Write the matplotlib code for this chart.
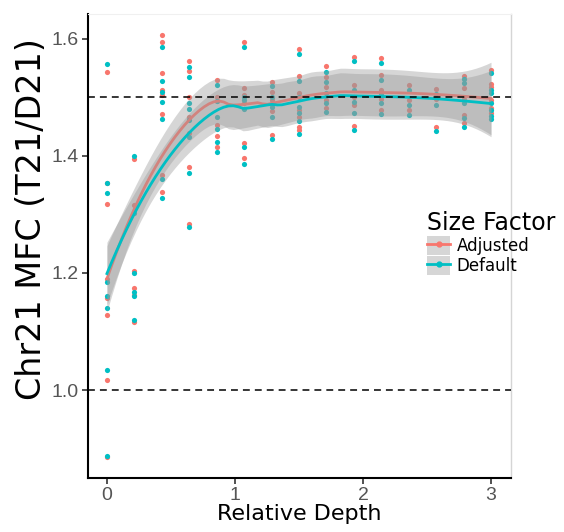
import numpy as np
import matplotlib.pyplot as plt
from matplotlib.patches import Patch
from matplotlib.lines import Line2D

# relative depth of each subsample
depth = [0.0, 0.214, 0.429, 0.643, 0.857, 1.071, 1.286, 1.5,
         1.714, 1.929, 2.143, 2.357, 2.571, 2.786, 3.0]

# Chr21 MFC per depth, size factors adjusted
adjusted = [
    [1.544, 1.353, 1.318, 1.190, 1.157, 1.129, 1.017, 0.885],
    [1.395, 1.316, 1.203, 1.174, 1.162, 1.117],
    [1.607, 1.595, 1.541, 1.512, 1.504, 1.472, 1.367, 1.338],
    [1.563, 1.545, 1.500, 1.466, 1.439, 1.381, 1.283],
    [1.530, 1.501, 1.494, 1.453, 1.434, 1.415],
    [1.595, 1.516, 1.504, 1.490, 1.423, 1.397],
    [1.527, 1.510, 1.495, 1.477, 1.436],
    [1.583, 1.537, 1.507, 1.479, 1.466, 1.449, 1.444],
    [1.553, 1.535, 1.518, 1.496, 1.482],
    [1.570, 1.521, 1.500, 1.487, 1.451],
    [1.567, 1.538, 1.513, 1.497, 1.479],
    [1.521, 1.496, 1.479],
    [1.514, 1.497, 1.449],
    [1.537, 1.516, 1.497, 1.470, 1.456],
    [1.547, 1.523, 1.518, 1.496, 1.482, 1.473],
]

# Chr21 MFC per depth, default size factors
default = [
    [1.558, 1.354, 1.337, 1.184, 1.160, 1.140, 1.034, 0.887],
    [1.400, 1.303, 1.200, 1.168, 1.160, 1.120],
    [1.586, 1.529, 1.510, 1.492, 1.464, 1.360, 1.329],
    [1.552, 1.535, 1.490, 1.480, 1.462, 1.432, 1.371, 1.278],
    [1.521, 1.494, 1.466, 1.446, 1.424, 1.406],
    [1.586, 1.500, 1.496, 1.480, 1.416, 1.387],
    [1.520, 1.500, 1.484, 1.467, 1.429],
    [1.575, 1.529, 1.500, 1.483, 1.473, 1.459, 1.438],
    [1.544, 1.527, 1.507, 1.490, 1.476],
    [1.562, 1.513, 1.492, 1.473, 1.444],
    [1.559, 1.530, 1.506, 1.490, 1.471],
    [1.513, 1.487, 1.470],
    [1.506, 1.488, 1.442],
    [1.532, 1.525, 1.490, 1.465, 1.449],
    [1.541, 1.512, 1.508, 1.490, 1.479, 1.468, 1.464],
]

groups = ["Adjusted", "Default"]
colors = ["#F8766D", "#00BFC4"]


def flatten(values):
    xs, ys = [], []
    for d, vals in zip(depth, values):
        xs += [d] * len(vals)
        ys += vals
    return np.array(xs), np.array(ys)


def loess(x, y, grid, span=0.75):
    # local quadratic fit with tricube weights, returns fit and 95% band
    n = len(x)
    q = int(np.floor(n * span))

    def hat_row(x0):
        dist = np.abs(x - x0)
        h = np.sort(dist)[q - 1] * 1.0000001
        w = np.clip(1 - (dist / h) ** 3, 0, None) ** 3
        X = np.column_stack([np.ones(n), x - x0, (x - x0) ** 2])
        XtW = X.T * w
        return np.linalg.pinv(XtW @ X)[0] @ XtW

    L = np.array([hat_row(xi) for xi in x])
    resid = y - L @ y
    M = np.eye(n) - L
    d1 = np.trace(M.T @ M)
    d2 = np.trace((M.T @ M) @ (M.T @ M))
    s = np.sqrt(np.sum(resid ** 2) / d1)
    df = d1 ** 2 / d2
    tq = 1.96 + 2.4 / df
    rows = np.array([hat_row(g) for g in grid])
    fit = rows @ y
    se = s * np.sqrt(np.sum(rows ** 2, axis=1))
    return fit, fit - tq * se, fit + tq * se


fig = plt.figure(figsize=(5.64, 5.32), dpi=100)
ax = fig.add_axes([0.156, 0.1015, 0.75, 0.8722])

grid = np.linspace(0, 3, 80)
for name, vals, c in zip(groups, [adjusted, default], colors):
    xs, ys = flatten(vals)
    ax.scatter(xs, ys, s=14, color=c, linewidths=0, zorder=2)

for name, vals, c in zip(groups, [adjusted, default], colors):
    xs, ys = flatten(vals)
    fit, lo, hi = loess(xs, ys, grid)
    ax.fill_between(grid, lo, hi, color="#999999", alpha=0.4, linewidth=0, zorder=3)
    ax.plot(grid, fit, color=c, lw=2.0, zorder=3)

for yref in [1.5, 1.0]:
    ax.axhline(yref, color="black", lw=1.1, linestyle=(0, (4.5, 3.3)), zorder=4)

ax.set_xlim(-0.148, 3.156)
ax.set_ylim(0.8496, 1.6427)
ax.set_xticks([0, 1, 2, 3])
ax.set_yticks([1.0, 1.2, 1.4, 1.6])
ax.set_yticklabels(["1.0", "1.2", "1.4", "1.6"])

for side in ["left", "bottom"]:
    ax.spines[side].set_linewidth(1.5)
    ax.spines[side].set_color("black")
ax.spines["right"].set_color("#D5D5D5")
ax.spines["right"].set_linewidth(1.0)
ax.spines["top"].set_color("#F0F0F0")
ax.spines["top"].set_linewidth(0.8)

ax.tick_params(length=4.5, width=1.2, color="#333333", labelcolor="#555555",
               labelsize=14, pad=2)
for lab in ax.get_xticklabels() + ax.get_yticklabels():
    lab.set_fontfamily("Liberation Sans")

ax.set_xlabel("Relative Depth", fontsize=16, labelpad=0)
ax.set_ylabel("Chr21 MFC (T21/D21)", fontsize=24)
ax.yaxis.set_label_coords(-0.095, 0.558)

handles = [(Patch(facecolor="#D6D6D6", edgecolor="none"),
            Line2D([], [], color=c, lw=2.0, marker="o", markersize=3.5))
           for c in colors]
leg = fig.legend(handles, groups, title="Size Factor", loc="upper left",
                 bbox_to_anchor=(0.745, 0.615), frameon=False, fontsize=12,
                 title_fontsize=17, handlelength=1.4, handleheight=1.35,
                 handletextpad=0.4, labelspacing=0.05, borderaxespad=0)
leg._legend_box.align = "left"

fig.savefig("out.png", dpi=100)
